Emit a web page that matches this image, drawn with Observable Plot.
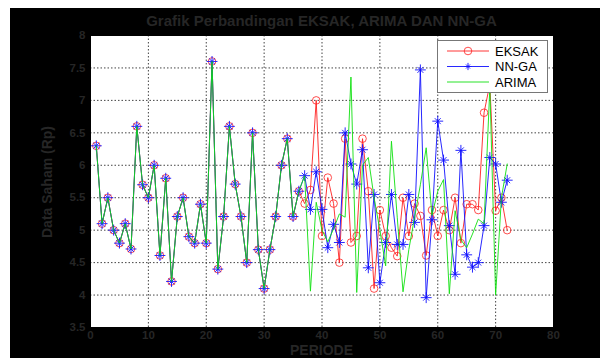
<!DOCTYPE html>
<html><head><meta charset="utf-8">
<script src="https://cdn.jsdelivr.net/npm/d3@7"></script>
<script src="https://cdn.jsdelivr.net/npm/@observablehq/plot@0.6"></script>
<style>
body{margin:0;background:#fff;}
#wrap{position:relative;width:609px;height:363px;background:#fff;overflow:hidden;font-family:"Liberation Sans",Arial,sans-serif;}
#bg{position:absolute;left:10px;top:8px;width:590px;height:350px;background:#000;}
#chart{position:absolute;left:0;top:0;}
#title{position:absolute;left:60px;width:523px;top:12px;text-align:center;font-size:15px;font-weight:bold;color:#262626;white-space:nowrap;line-height:17px;}
#xlabel{position:absolute;left:90px;width:463px;top:343px;text-align:center;font-size:14px;font-weight:bold;color:#262626;line-height:15px;}
#ylabel{position:absolute;left:47px;top:182px;transform:translate(-50%,-50%) rotate(-90deg);font-size:14px;font-weight:bold;color:#262626;white-space:nowrap;}
#legend{position:absolute;left:437px;top:40px;}
</style></head>
<body>
<div id="wrap">
  <div id="bg"></div>
  <div id="chart"></div>
  <div id="title">Grafik Perbandingan EKSAK, ARIMA DAN NN-GA</div>
  <div id="xlabel">PERIODE</div>
  <div id="ylabel">Data Saham (Rp)</div>
  <div id="legend"></div>
</div>
<script>
const periods = d3.range(1, 73);
const eksak = [6.30,5.10,5.50,5.00,4.80,5.10,4.71,6.60,5.70,5.50,6.00,4.61,5.80,4.21,5.21,5.50,4.90,4.80,5.40,4.80,7.60,4.40,5.21,6.60,5.71,5.21,4.50,6.50,4.70,4.10,4.70,5.21,6.00,6.41,5.21,5.60,
  5.41,5.62,7.00,4.91,5.81,5.41,4.50,6.41,4.81,4.91,6.41,5.60,4.10,5.31,4.91,4.73,4.60,5.50,
  4.91,5.41,5.22,4.61,5.31,4.91,5.31,5.00,5.50,4.80,5.40,5.40,5.31,6.81,7.25,5.30,5.50,5.00];
const nnga = [6.30,5.10,5.50,5.00,4.80,5.10,4.71,6.60,5.70,5.50,6.00,4.61,5.80,4.21,5.21,5.50,4.90,4.80,5.40,4.80,7.60,4.40,5.21,6.60,5.71,5.21,4.50,6.50,4.70,4.10,4.70,5.21,6.00,6.41,5.21,5.60,
  5.84,5.32,5.90,5.32,4.73,5.09,4.81,6.50,6.02,5.71,6.24,4.42,5.55,4.19,4.81,5.55,4.78,4.78,
  5.55,5.12,7.47,3.96,5.16,6.68,6.08,5.07,4.32,6.23,4.62,4.43,4.50,5.07,6.12,6.02,5.43,5.77];
const arima = [6.30,5.10,5.50,5.00,4.80,5.10,4.71,6.60,5.70,5.50,6.00,4.61,5.80,4.21,5.21,5.50,4.90,4.80,5.40,4.80,7.60,4.40,5.21,6.60,5.71,5.21,4.50,6.50,4.70,4.10,4.70,5.21,6.00,6.41,5.21,5.60,
  5.84,4.06,5.43,5.00,4.82,5.02,5.25,5.20,7.36,4.04,6.00,6.12,5.50,5.00,4.45,6.37,5.20,4.05,
  4.70,5.20,5.70,6.27,5.23,5.60,5.78,4.02,5.30,4.85,4.73,4.94,5.17,5.10,7.20,4.00,5.50,6.02];
const xTicks = [0,10,20,30,40,50,60,70,80];
const yTicks = [3.5,4,4.5,5,5.5,6,6.5,7,7.5,8];
const seriesNames = ["EKSAK","NN-GA","ARIMA"];
const seriesColors = ["#ff2020","#1010ff","#10e010"];

const rowsE = periods.map((p,i)=>({x:p,y:eksak[i]}));
const rowsN = periods.map((p,i)=>({x:p,y:nnga[i]}));
const rowsA = periods.map((p,i)=>({x:p,y:arima[i]}));

const chart = Plot.plot({
  width: 609, height: 363,
  marginLeft: 90, marginRight: 56, marginTop: 35, marginBottom: 36,
  style: {background:"transparent", fontFamily:"Liberation Sans, Arial, sans-serif", fontSize:"11.5px", fontWeight:"bold", color:"#262626"},
  x: {domain:[0,80], ticks:xTicks, tickSize:0, tickPadding:3, label:null, tickFormat:d=>String(d)},
  y: {domain:[3.5,8], ticks:yTicks, tickSize:0, tickPadding:5, label:null, tickFormat:d=>String(d)},
  marks: [
    Plot.frame({fill:"white", stroke:"none"}),
    Plot.gridX(xTicks.slice(1,-1), {stroke:"#444", strokeOpacity:1, strokeDasharray:"1.5,2"}),
    Plot.gridY(yTicks.slice(1,-1), {stroke:"#444", strokeOpacity:1, strokeDasharray:"1.5,2"}),
    Plot.line(rowsE, {x:"x", y:"y", stroke:seriesColors[0], strokeWidth:0.9}),
    Plot.dot(rowsE, {x:"x", y:"y", r:3.8, stroke:seriesColors[0], strokeWidth:0.8, fill:"none"}),
    Plot.line(rowsN, {x:"x", y:"y", stroke:seriesColors[1], strokeWidth:0.9}),
    Plot.dot(rowsN, {x:"x", y:"y", r:3.6, symbol:"plus", stroke:seriesColors[1], strokeWidth:0.9}),
    Plot.dot(rowsN, {x:"x", y:"y", r:2.8, symbol:"times", stroke:seriesColors[1], strokeWidth:0.9}),
    Plot.line(rowsA, {x:"x", y:"y", stroke:seriesColors[2], strokeWidth:0.9}),
    Plot.frame({stroke:"#000"})
  ]
});
document.getElementById("chart").appendChild(chart);

// legend
const ns = "http://www.w3.org/2000/svg";
const lg = document.createElementNS(ns,"svg");
lg.setAttribute("width",112); lg.setAttribute("height",54);
lg.innerHTML = `<rect x="0.5" y="0.5" width="110" height="52" fill="#fff" stroke="#777" stroke-width="1"/>`;
seriesNames.forEach((name,i)=>{
  const y = 11 + i*15.5;
  let s = `<line x1="10" x2="52" y1="${y}" y2="${y}" stroke="${seriesColors[i]}" stroke-width="0.9"/>`;
  if(i===0) s += `<circle cx="31" cy="${y}" r="3.8" fill="none" stroke="${seriesColors[0]}" stroke-width="0.8"/>`;
  if(i===1) s += `<path d="M31,${y-3.6}V${y+3.6}M27.4,${y}H34.6M29,${y-2}L33,${y+2}M29,${y+2}L33,${y-2}" stroke="${seriesColors[1]}" stroke-width="0.9"/>`;
  s += `<text x="58" y="${y}" dy="0.36em" font-size="13" font-family="Liberation Sans, Arial, sans-serif" fill="#000">${name}</text>`;
  lg.innerHTML += s;
});
document.getElementById("legend").appendChild(lg);
</script>
</body></html>
